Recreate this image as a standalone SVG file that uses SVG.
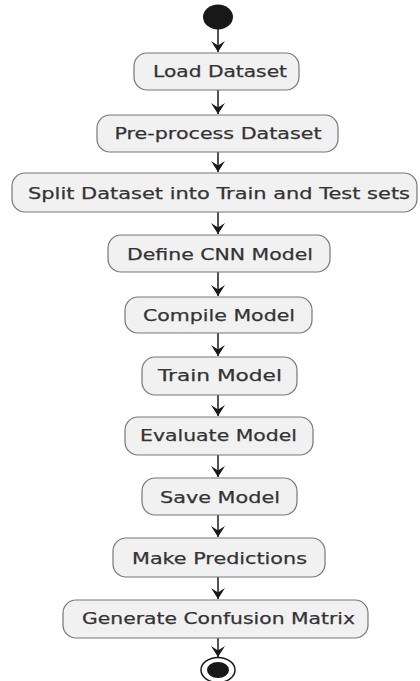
<svg xmlns="http://www.w3.org/2000/svg" width="420" height="681" viewBox="0 0 420 681">
<style>
.box{fill:#F1F1F1;stroke:#777;stroke-width:1.2}
.t{font-family:"DejaVu Sans","Liberation Sans",sans-serif;font-size:16.5px;fill:#333;stroke:#333;stroke-width:0.25;text-anchor:middle;dominant-baseline:central}
.c{stroke:#181818;stroke-width:1.5;fill:none}
</style>
<defs>
<marker id="ah" markerUnits="userSpaceOnUse" markerWidth="13" markerHeight="15" refX="12" refY="7.5" orient="auto" viewBox="0 0 13 15">
<path d="M1,0.5 L12,7.5 L1,14.5 L5.5,7.5 Z" fill="#181818"/>
</marker>
</defs>
<rect width="420" height="681" fill="#fff"/>
<g id="connectors">
<line class="c" x1="218" y1="29" x2="218" y2="52" marker-end="url(#ah)"/>
<line class="c" x1="218" y1="90" x2="218" y2="114" marker-end="url(#ah)"/>
<line class="c" x1="218" y1="152" x2="218" y2="172" marker-end="url(#ah)"/>
<line class="c" x1="218" y1="212" x2="218" y2="234" marker-end="url(#ah)"/>
<line class="c" x1="218" y1="272" x2="218" y2="296" marker-end="url(#ah)"/>
<line class="c" x1="218" y1="333" x2="218" y2="356" marker-end="url(#ah)"/>
<line class="c" x1="218" y1="395" x2="218" y2="416" marker-end="url(#ah)"/>
<line class="c" x1="218" y1="455" x2="218" y2="477" marker-end="url(#ah)"/>
<line class="c" x1="218" y1="515" x2="218" y2="537" marker-end="url(#ah)"/>
<line class="c" x1="218" y1="577" x2="218" y2="599" marker-end="url(#ah)"/>
<line class="c" x1="218" y1="638" x2="218" y2="657" marker-end="url(#ah)"/>
</g>
<g id="start"><ellipse cx="218" cy="17" rx="15" ry="12.5" fill="#181818"/></g>
<g id="n1"><rect class="box" x="134" y="53" width="165" height="37" rx="13"/><text class="t" x="220" y="71.5" textLength="134" lengthAdjust="spacingAndGlyphs">Load Dataset</text></g>
<g id="n2"><rect class="box" x="97" y="115" width="241" height="37" rx="13"/><text class="t" x="218" y="133.5" textLength="207" lengthAdjust="spacingAndGlyphs">Pre-process Dataset</text></g>
<g id="n3"><rect class="box" x="12" y="173" width="405" height="39" rx="13"/><text class="t" x="219" y="193" textLength="382" lengthAdjust="spacingAndGlyphs">Split Dataset into Train and Test sets</text></g>
<g id="n4"><rect class="box" x="108" y="235" width="222" height="37" rx="13"/><text class="t" x="220" y="254" textLength="186" lengthAdjust="spacingAndGlyphs">Define CNN Model</text></g>
<g id="n5"><rect class="box" x="125" y="297" width="187" height="36" rx="13"/><text class="t" x="219" y="315" textLength="152" lengthAdjust="spacingAndGlyphs">Compile Model</text></g>
<g id="n6"><rect class="box" x="142" y="357" width="155" height="38" rx="13"/><text class="t" x="220" y="375.5" textLength="124" lengthAdjust="spacingAndGlyphs">Train Model</text></g>
<g id="n7"><rect class="box" x="125" y="417" width="188" height="38" rx="13"/><text class="t" x="218.5" y="435.5" textLength="157" lengthAdjust="spacingAndGlyphs">Evaluate Model</text></g>
<g id="n8"><rect class="box" x="142" y="478" width="155" height="37" rx="13"/><text class="t" x="220" y="497" textLength="120" lengthAdjust="spacingAndGlyphs">Save Model</text></g>
<g id="n9"><rect class="box" x="113" y="538" width="212" height="39" rx="13"/><text class="t" x="219.5" y="558" textLength="175" lengthAdjust="spacingAndGlyphs">Make Predictions</text></g>
<g id="n10"><rect class="box" x="63" y="600" width="305" height="38" rx="13"/><text class="t" x="218.5" y="618.5" textLength="273" lengthAdjust="spacingAndGlyphs">Generate Confusion Matrix</text></g>
<g id="end"><ellipse cx="218" cy="670" rx="17" ry="12.5" fill="#fff" stroke="#181818" stroke-width="1.5"/><ellipse cx="218" cy="670" rx="11" ry="8" fill="#181818"/></g>
</svg>
